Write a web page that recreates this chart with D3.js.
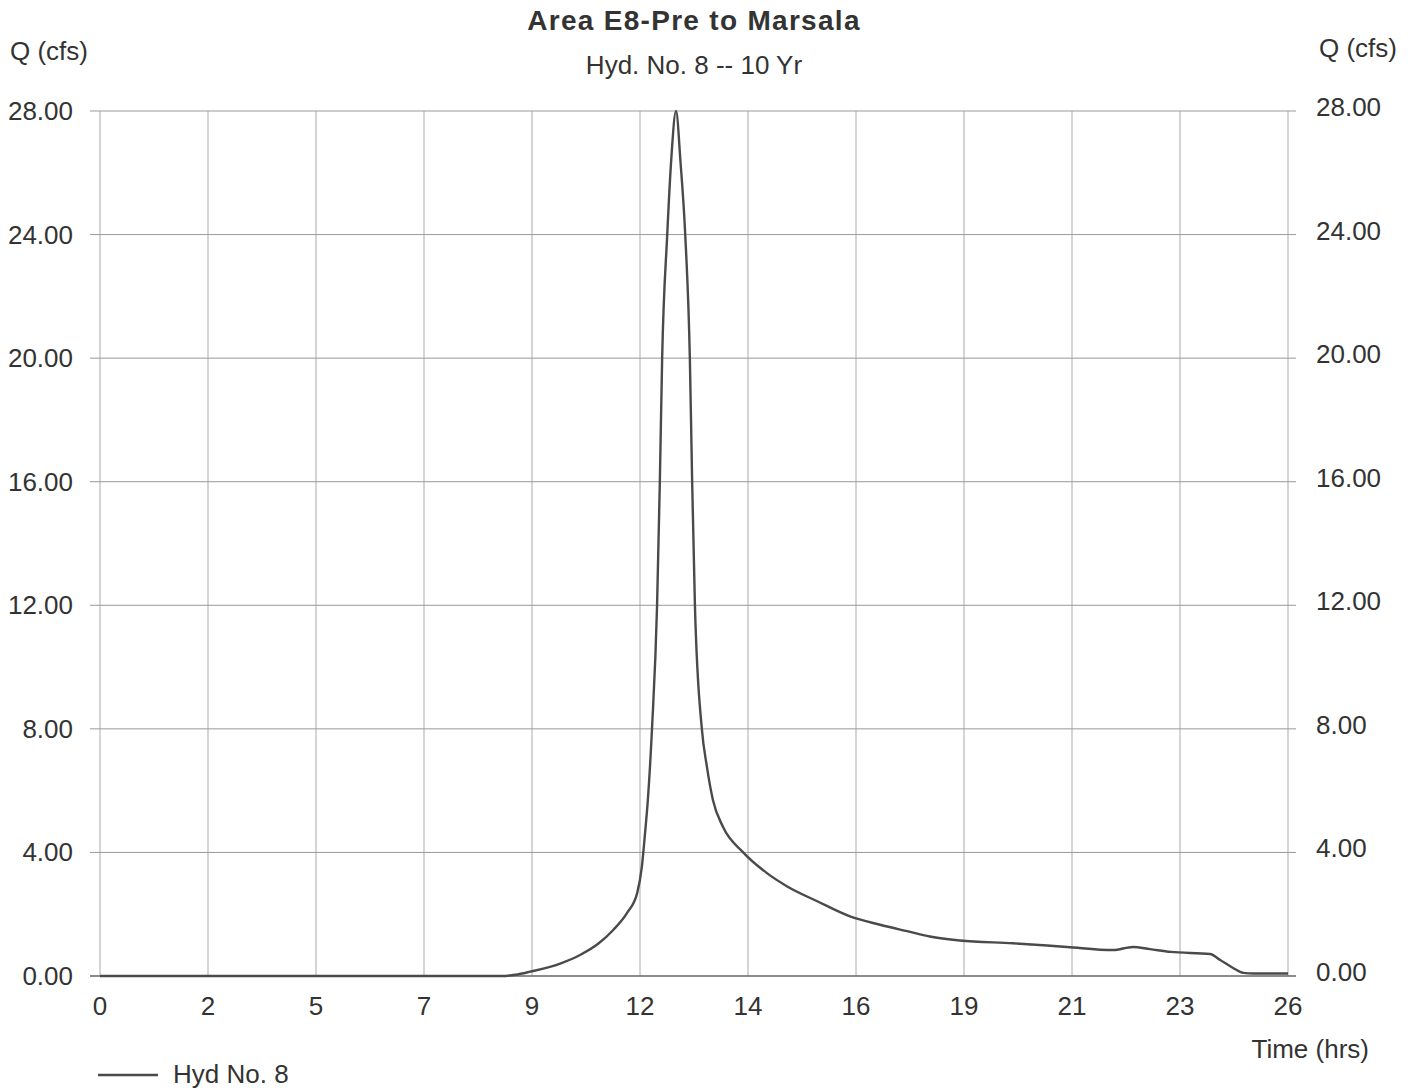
<!DOCTYPE html>
<meta charset="utf-8">
<style>
body {
	margin: 0;
	background-color: #ffffff;
	font-family: "Liberation Sans", Arial, sans-serif;
}
text { fill: #333; }
.title { font-size: 28px; font-weight: bold; letter-spacing: 1.3px; }
.sub { font-size: 26px; }
.lbl { font-size: 26px; }
</style>
<body>
<script src="https://d3js.org/d3.v7.min.js"></script>
<script>
var width = 1416, height = 1090;

// hydrograph, time (hrs) vs Q (cfs)
var hours = [0, 8.7, 9.0, 9.32, 10.0, 10.4, 10.8, 11.12, 11.42, 11.64, 11.74, 11.81, 11.87, 11.96, 12.07, 12.13, 12.18, 12.29, 12.38, 12.48,
	12.58, 12.68, 12.78, 12.83, 12.89, 13.04, 13.15, 13.28, 13.5, 13.93, 14.45, 14.89, 15.54, 16.25, 16.9, 17.49, 17.98, 18.63, 19.78,
	20.95, 21.95, 22.38, 22.75, 23.2, 24.05, 24.27, 24.55, 24.77, 25.0, 25.74];
var flows = [0, 0, 0.04, 0.14, 0.42, 0.68, 1.05, 1.49, 2.04, 2.69, 3.53, 4.63, 5.7, 8.0, 12.0, 16.0, 20.0, 24.0, 26.5, 28.0,
	26.3, 24.0, 20.0, 16.0, 12.0, 8.0, 6.77, 5.7, 4.82, 4.01, 3.33, 2.9, 2.42, 1.93, 1.66, 1.45, 1.28, 1.15, 1.06,
	0.94, 0.84, 0.94, 0.87, 0.78, 0.71, 0.52, 0.26, 0.10, 0.08, 0.08];

var xTickLabels = ['0', '2', '5', '7', '9', '12', '14', '16', '19', '21', '23', '26'];
var xMax = 25.74;
var yTicks = [0, 4, 8, 12, 16, 20, 24, 28];

var svg = d3.select('body').append('svg')
	.attr('width', width)
	.attr('height', height);

var x = d3.scaleLinear().domain([0, xMax]).range([100, 1288]);
var y = d3.scaleLinear().domain([0, 28]).range([976, 111]);

var xTicks = xTickLabels.map(function(d, i) { return i * xMax / (xTickLabels.length - 1); });

// vertical grid
svg.append('g').selectAll('line')
	.data(xTicks)
	.enter().append('line')
	.attr('x1', function(d) { return x(d); })
	.attr('x2', function(d) { return x(d); })
	.attr('y1', y(28))
	.attr('y2', y(0))
	.attr('stroke', '#aaa')
	.attr('stroke-width', 1);

// horizontal grid
svg.append('g').selectAll('line')
	.data(yTicks)
	.enter().append('line')
	.attr('x1', 90)
	.attr('x2', 1296)
	.attr('y1', function(d) { return y(d); })
	.attr('y2', function(d) { return y(d); })
	.attr('stroke', function(d) { return d == 0 ? '#666' : '#999'; })
	.attr('stroke-width', function(d) { return d == 0 ? 1.5 : 1; });

// left and right y labels
var fmt = d3.format('.2f');
svg.append('g').selectAll('text')
	.data(yTicks)
	.enter().append('text')
	.attr('class', 'lbl')
	.attr('x', 73)
	.attr('y', function(d) { return y(d) + 9; })
	.attr('text-anchor', 'end')
	.text(fmt);

svg.append('g').selectAll('text')
	.data(yTicks)
	.enter().append('text')
	.attr('class', 'lbl')
	.attr('x', 1316)
	.attr('y', function(d) { return y(d) + 5; })
	.text(fmt);

// x labels
svg.append('g').selectAll('text')
	.data(xTicks)
	.enter().append('text')
	.attr('class', 'lbl')
	.attr('x', function(d) { return x(d); })
	.attr('y', 1015)
	.attr('text-anchor', 'middle')
	.text(function(d, i) { return xTickLabels[i]; });

// the curve
var pts = hours.map(function(h, i) { return [h, flows[i]]; });
var line = d3.line()
	.x(function(d) { return x(d[0]); })
	.y(function(d) { return y(d[1]); })
	.curve(d3.curveMonotoneX);

svg.append('path')
	.datum(pts)
	.attr('d', line)
	.attr('fill', 'none')
	.attr('stroke', '#4a4a4a')
	.attr('stroke-width', 2.4);

// titles
svg.append('text').attr('class', 'title')
	.attr('x', 694).attr('y', 30).attr('text-anchor', 'middle')
	.text('Area E8-Pre to Marsala');
svg.append('text').attr('class', 'sub')
	.attr('x', 694).attr('y', 74).attr('text-anchor', 'middle')
	.text('Hyd. No. 8 -- 10 Yr');
svg.append('text').attr('class', 'lbl')
	.attr('x', 10).attr('y', 60)
	.text('Q (cfs)');
svg.append('text').attr('class', 'lbl')
	.attr('x', 1397).attr('y', 57).attr('text-anchor', 'end')
	.text('Q (cfs)');
svg.append('text').attr('class', 'lbl')
	.attr('x', 1369).attr('y', 1058).attr('text-anchor', 'end')
	.text('Time (hrs)');

// legend
svg.append('line')
	.attr('x1', 98).attr('x2', 158)
	.attr('y1', 1075).attr('y2', 1075)
	.attr('stroke', '#4a4a4a').attr('stroke-width', 2.4);
svg.append('text').attr('class', 'lbl')
	.attr('x', 173).attr('y', 1083)
	.text('Hyd No. 8');
</script>
</body>
